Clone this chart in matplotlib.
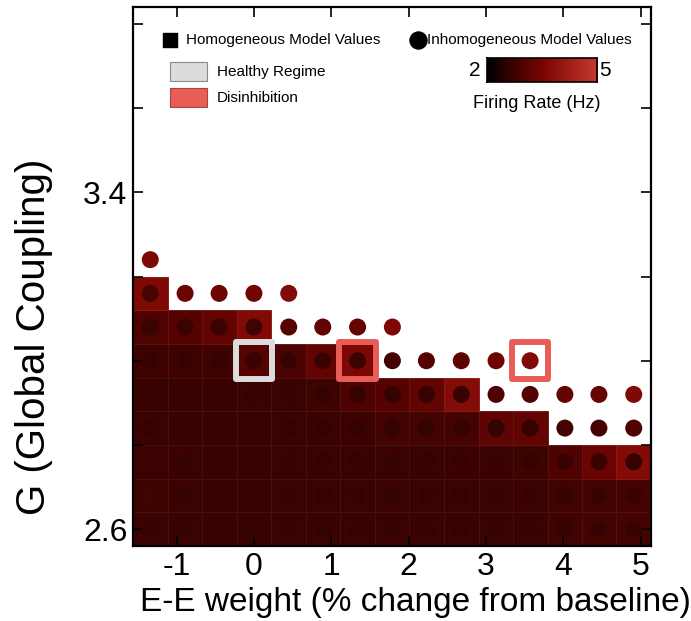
import numpy as np
import matplotlib
matplotlib.use("Agg")
import matplotlib.pyplot as plt
from matplotlib.colors import LinearSegmentedColormap
from matplotlib.patches import Rectangle

plt.rcParams["font.family"] = ["Liberation Sans", "DejaVu Sans"]
plt.rcParams["axes.unicode_minus"] = False

nan = np.nan

# E-E weight (% change from baseline), one per column
ee_change = [-1.34, -0.89, -0.45, 0.00, 0.45, 0.89, 1.34, 1.79,
             2.23, 2.68, 3.13, 3.57, 4.02, 4.46, 4.91]
# global coupling G, one per row (bottom to top)
g_values = [2.60, 2.68, 2.76, 2.84, 2.92, 3.00, 3.08, 3.16, 3.24]

# firing rate (Hz), homogeneous model (squares)
homog_rate = [
    [2.72, 2.72, 2.70, 2.70, 2.72, 2.72, 2.72, 2.72, 2.72, 2.72, 2.72, 2.72, 2.80, 2.82, 2.84],
    [2.76, 2.72, 2.70, 2.70, 2.72, 2.72, 2.72, 2.72, 2.72, 2.72, 2.72, 2.74, 2.80, 2.82, 2.84],
    [2.74, 2.72, 2.70, 2.70, 2.72, 2.72, 2.72, 2.72, 2.72, 2.74, 2.74, 2.76, 2.98, 3.30, 3.68],
    [2.72, 2.70, 2.70, 2.70, 2.72, 2.72, 2.74, 2.82, 2.82, 2.84, 3.15, 3.19, nan, nan, nan],
    [2.70, 2.70, 2.70, 2.72, 2.72, 2.76, 2.98, 3.05, 3.19, 3.70, nan, nan, nan, nan, nan],
    [2.77, 2.77, 2.77, 3.05, 2.91, 3.19, 3.55, nan, nan, nan, nan, nan, nan, nan, nan],
    [2.98, 3.05, 3.19, 3.65, nan, nan, nan, nan, nan, nan, nan, nan, nan, nan, nan],
    [3.60, nan, nan, nan, nan, nan, nan, nan, nan, nan, nan, nan, nan, nan, nan],
    [nan, nan, nan, nan, nan, nan, nan, nan, nan, nan, nan, nan, nan, nan, nan],
]

# firing rate (Hz), inhomogeneous model (circles)
inhomog_rate = [
    [2.66, 2.64, 2.66, 2.66, 2.64, 2.64, 2.64, 2.64, 2.64, 2.64, 2.64, 2.64, 2.68, 2.68, 2.70],
    [2.80, 2.64, 2.66, 2.64, 2.64, 2.64, 2.64, 2.64, 2.64, 2.64, 2.64, 2.64, 2.68, 2.70, 2.70],
    [2.74, 2.64, 2.68, 2.66, 2.64, 2.64, 2.64, 2.64, 2.64, 2.64, 2.64, 2.64, 2.68, 2.70, 2.66],
    [2.66, 2.66, 2.66, 2.66, 2.66, 2.64, 2.64, 2.64, 2.64, 2.64, 2.64, 2.64, 2.84, 2.84, 2.98],
    [2.66, 2.66, 2.66, 2.66, 2.64, 2.64, 2.66, 2.66, 2.66, 2.68, 2.98, 3.05, 3.19, 3.26, 3.60],
    [2.66, 2.66, 2.66, 2.68, 2.68, 2.70, 2.72, 2.84, 3.05, 3.12, 3.33, 3.65, nan, nan, nan],
    [2.72, 2.72, 2.74, 2.78, 3.05, 3.19, 3.26, 3.55, nan, nan, nan, nan, nan, nan, nan],
    [2.86, 3.33, 3.33, 3.40, 3.70, nan, nan, nan, nan, nan, nan, nan, nan, nan, nan],
    [3.60, nan, nan, nan, nan, nan, nan, nan, nan, nan, nan, nan, nan, nan, nan],
]

healthy_ee = [0.00]
healthy_g = [3.00]
disinhib_ee = [1.34, 3.57]
disinhib_g = [3.00, 3.00]

x_ticks = [-1, 0, 1, 2, 3, 4, 5]
y_ticks = [2.6, 2.8, 3.0, 3.2, 3.4, 3.6, 3.8]
y_ticklabels = ["2.6", "", "", "", "3.4", "", ""]

cmap = LinearSegmentedColormap.from_list(
    "rate", [(0.0, "#000000"), (0.5, "#7a0502"), (1.0, "#c63a2e")])
vmin, vmax = 2, 5
healthy_color = "#dcdcdc"
disinhib_color = "#e85e57"

W, H = 691, 621
fig = plt.figure(figsize=(W / 100, H / 100), dpi=100)
L, R, T, B = 133, 651, 7, 546
ax = fig.add_axes([L / W, 1 - B / H, (R - L) / W, (B - T) / H])

x = np.array(ee_change)
g = np.array(g_values)
dx = np.diff(x).mean()
dg = np.diff(g).mean()
x_edges = np.concatenate([x - dx / 2, [x[-1] + dx / 2]])
g_edges = np.concatenate([g - dg / 2, [g[-1] + dg / 2]])

homog = np.ma.masked_invalid(np.array(homog_rate))
ax.pcolormesh(x_edges, g_edges, homog, cmap=cmap, vmin=vmin, vmax=vmax,
              edgecolors=(1, 1, 1, 0.06), linewidth=0.6)

inh = np.array(inhomog_rate)
xx, gg = np.meshgrid(x, g)
ok = ~np.isnan(inh)
ax.scatter(xx[ok], gg[ok], c=inh[ok], cmap=cmap, vmin=vmin, vmax=vmax,
           s=150, linewidths=0, zorder=3)

ax.scatter(healthy_ee, healthy_g, marker="s", s=700, facecolors="none",
           edgecolors=healthy_color, linewidths=4.3, zorder=4)
ax.scatter(disinhib_ee, disinhib_g, marker="s", s=700, facecolors="none",
           edgecolors=disinhib_color, linewidths=4.3, zorder=4)

ax.set_xlim(x_edges[0], x_edges[-1])
ax.set_ylim(g_edges[0], 3.84)
ax.set_xticks(x_ticks)
ax.set_yticks(y_ticks)
ax.set_yticklabels(y_ticklabels)
ax.tick_params(direction="in", length=7, width=1.2, top=True, right=True,
               labelsize=23, pad=4)
for s in ax.spines.values():
    s.set_linewidth(1.6)


def axf(px, py):
    # figure pixel -> axes fraction
    return (px - L) / (R - L), (B - py) / (B - T)


ax.set_xlabel("E-E weight (% change from baseline)", fontsize=24)
ax.xaxis.set_label_coords(*axf(415, 587))
ax.set_ylabel("G (Global Coupling)", fontsize=29)
ax.yaxis.set_label_coords(*axf(53, 337))

# legend, placed in pixel positions of the figure
ax.scatter(*axf(170, 40), marker="s", s=115, color="black",
           transform=ax.transAxes, clip_on=False, zorder=5)
ax.text(*axf(186, 40), "Homogeneous Model Values", transform=ax.transAxes,
        fontsize=11, va="center", ha="left")
ax.scatter(*axf(418, 40), marker="o", s=150, color="black",
           transform=ax.transAxes, clip_on=False, zorder=5)
ax.text(*axf(427, 40), "Inhomogeneous Model Values", transform=ax.transAxes,
        fontsize=11, va="center", ha="left")

for top, color, edge, label in [(62, healthy_color, "#8a8a8a", "Healthy Regime"),
                                (88, disinhib_color, "#a84440", "Disinhibition")]:
    x0, y0 = axf(170, top + 19)
    x1, y1 = axf(207, top)
    ax.add_patch(Rectangle((x0, y0), x1 - x0, y1 - y0, transform=ax.transAxes,
                           facecolor=color, edgecolor=edge, linewidth=0.8,
                           clip_on=False, zorder=5))
    ax.text(*axf(217, top + 10), label, transform=ax.transAxes,
            fontsize=11, va="center", ha="left")

cax = fig.add_axes([487 / W, 1 - 82 / H, 110 / W, 24 / H])
grad = np.linspace(vmin, vmax, 256).reshape(1, -1)
cax.imshow(grad, aspect="auto", cmap=cmap, vmin=vmin, vmax=vmax,
           extent=[vmin, vmax, 0, 1])
cax.set_xticks([])
cax.set_yticks([])
for s in cax.spines.values():
    s.set_linewidth(1.2)
fig.text(480 / W, 1 - 70 / H, "2", fontsize=15, ha="right", va="center")
fig.text(599 / W, 1 - 70 / H, "5", fontsize=15, ha="left", va="center")
fig.text(537 / W, 1 - 103 / H, "Firing Rate (Hz)", fontsize=13,
         ha="center", va="center")

fig.savefig("out.png", dpi=100)
